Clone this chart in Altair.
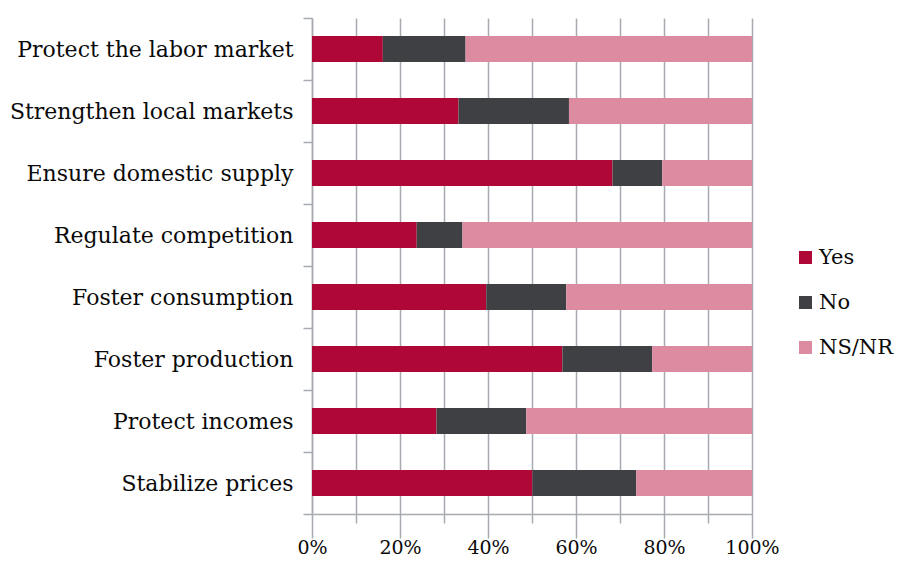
import altair as alt
import pandas as pd

categories = [
    "Protect the labor market",
    "Strengthen local markets",
    "Ensure domestic supply",
    "Regulate competition",
    "Foster consumption",
    "Foster production",
    "Protect incomes",
    "Stabilize prices",
]
yes_pct = [16.1, 33.3, 68.3, 23.8, 39.6, 56.9, 28.3, 50.1]
no_pct = [18.8, 25.1, 11.3, 10.4, 18.2, 20.4, 20.4, 23.6]
responses = ["Yes", "No", "NS/NR"]
colors = ["#b00836", "#3f4044", "#dc8ba0"]
x_ticks = list(range(0, 101, 10))

rows = []
for c, y, n in zip(categories, yes_pct, no_pct):
    vals = [y, n, round(100 - y - n, 1)]
    for i, (r, v) in enumerate(zip(responses, vals)):
        rows.append({"category": c, "response": r, "value": v, "order": i})
df = pd.DataFrame(rows)

SERIF = "DejaVu Serif"
GRID = "#a7abb1"
TEXT = "#0a0a0a"

chart = (
    alt.Chart(df)
    .mark_bar(height=26)
    .encode(
        y=alt.Y(
            "category:N",
            sort=categories,
            title=None,
            scale=alt.Scale(paddingInner=0, paddingOuter=0),
            axis=alt.Axis(
                tickBand="extent",
                tickSize=9,
                tickColor=GRID,
                tickWidth=1.5,
                domainColor=GRID,
                domainWidth=1.5,
                labelFont=SERIF,
                labelFontSize=22,
                labelColor=TEXT,
                labelPadding=10,
                labelLimit=320,
                grid=False,
            ),
        ),
        x=alt.X(
            "value:Q",
            stack="zero",
            title=None,
            scale=alt.Scale(domain=[0, 100], nice=False),
            axis=alt.Axis(
                values=x_ticks,
                labelExpr="datum.value % 20 == 0 ? datum.value + '%' : ''",
                tickSize={"condition": {"test": "datum.value % 20 == 0", "value": 24}, "value": 9},
                tickColor=GRID,
                tickWidth=1.5,
                domainColor=GRID,
                domainWidth=1.5,
                grid=True,
                gridColor=GRID,
                gridWidth=1.5,
                gridOpacity=1,
                labelFont=SERIF,
                labelFontSize=19,
                labelColor=TEXT,
                labelPadding=0,
                labelFlush=False,
            ),
        ),
        color=alt.Color(
            "response:N",
            sort=responses,
            scale=alt.Scale(domain=responses, range=colors),
            legend=alt.Legend(
                title=None,
                orient="none",
                legendX=483,
                legendY=229,
                direction="vertical",
                symbolType="square",
                symbolSize=169,
                symbolStrokeWidth=0,
                symbolOpacity=1,
                labelFont=SERIF,
                labelFontSize=21,
                labelColor=TEXT,
                labelOffset=3,
                rowPadding=23,
            ),
        ),
        order=alt.Order("order:Q"),
    )
    .properties(
        width=440,
        height=496,
        autosize=alt.AutoSizeParams(type="none"),
        padding={"left": 304, "top": 10, "right": 144, "bottom": 45},
    )
    .configure_view(strokeWidth=0)
)

chart.save("out.html", embed_options={"renderer": "svg", "actions": False})
